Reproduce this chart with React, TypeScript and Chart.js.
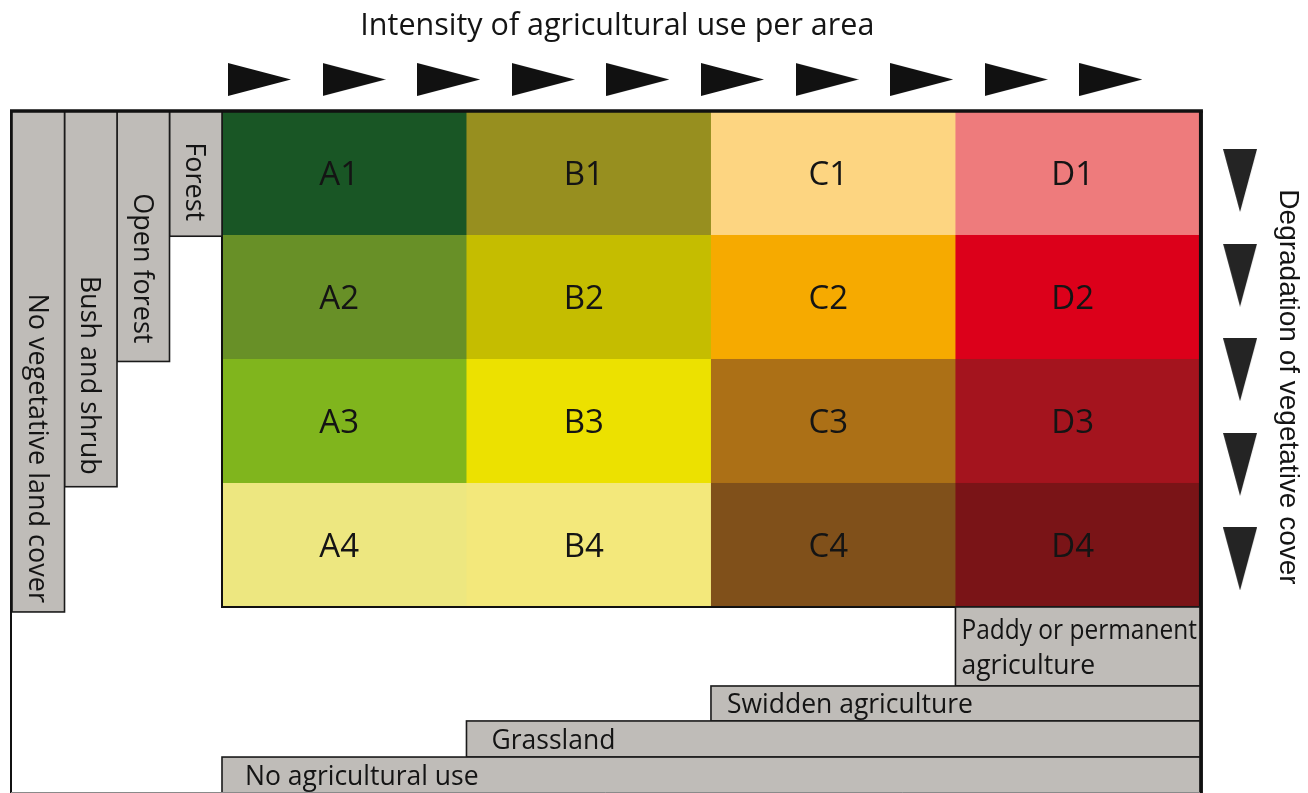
import React, { useEffect, useRef } from "react";
import { Chart, registerables } from "chart.js";

Chart.register(...registerables);

// ---------------- data ----------------
const intensityClasses = ["A", "B", "C", "D"];
const degradationClasses = ["1", "2", "3", "4"];

const cellColorsRow1 = ["#195625", "#978f1f", "#fdd581", "#ee7b7c"];
const cellColorsRow2 = ["#689027", "#c5bd00", "#f6aa00", "#dc001a"];
const cellColorsRow3 = ["#80b51d", "#ece100", "#ac7016", "#a4141e"];
const cellColorsRow4 = ["#ede780", "#f3e87b", "#80501a", "#7a1417"];
const cellColors = [cellColorsRow1, cellColorsRow2, cellColorsRow3, cellColorsRow4];

const vegetationLabels = ["Forest", "Open forest", "Bush and shrub", "No vegetative land cover"];
const vegetationReach = [1, 2, 3, 4]; // degradation rows covered by each vegetation class

const agricultureLabels = [
  ["Paddy or permanent", "agriculture"],
  ["Swidden agriculture"],
  ["Grassland"],
  ["No agricultural use"],
];
const agricultureFrom = [3, 2, 1, 0]; // first intensity column covered by each use class

const titleText = "Intensity of agricultural use per area";
const sideText = "Degradation of vegetative cover";
const intensityArrowCount = 10;
const degradationArrowCount = 5;

// ---------------- layout (scale units / px) ----------------
const X_MIN = -0.908;
const X_MAX = 4.442;
const Y_MIN = -0.895;
const Y_MAX = 5.5;
const VEG_W = 0.2147;
const VEG_PAD = [15, 18, 12, 9];
const AGRI_BANDS = [
  [4.0, 4.637],
  [4.637, 4.919],
  [4.919, 5.21],
  [5.21, 5.7],
];
const AGRI_PAD = [6, 16, 25, 23];
const FRAME_LEFT = -0.863;
const TOP_ARROW_Y = -0.254;
const TOP_ARROW_X0 = 0.1534;
const TOP_ARROW_STEP = 0.3869;
const SIDE_ARROW_X = 4.164;
const SIDE_ARROW_Y0 = 0.5605;
const SIDE_ARROW_STEP = 0.763;

const SANS = "'Open Sans', 'DejaVu Sans', sans-serif";
const GRAY = "#bfbcb8";
const INK = "#141414";

function makeTriangle(w: number, h: number, dir: "right" | "down", color: string) {
  const c = document.createElement("canvas");
  c.width = w;
  c.height = h;
  const g = c.getContext("2d")!;
  g.fillStyle = color;
  g.beginPath();
  if (dir === "right") {
    g.moveTo(0, 0);
    g.lineTo(w, h / 2);
    g.lineTo(0, h);
  } else {
    g.moveTo(0, 0);
    g.lineTo(w, 0);
    g.lineTo(w / 2, h);
  }
  g.closePath();
  g.fill();
  return c;
}

function vText(ctx: CanvasRenderingContext2D, text: string, x: number, y: number, align: CanvasTextAlign, size: number, family: string) {
  ctx.save();
  ctx.translate(x, y);
  ctx.rotate(Math.PI / 2);
  ctx.font = `${size}px ${family}`;
  ctx.textAlign = align;
  ctx.textBaseline = "alphabetic";
  ctx.fillStyle = INK;
  ctx.fillText(text, 0, size * 0.36);
  ctx.restore();
}

const diagramPlugin = {
  id: "landDiagram",
  beforeDatasetsDraw(chart: any) {
    const ctx: CanvasRenderingContext2D = chart.ctx;
    const xs = chart.scales.x;
    const ys = chart.scales.y;
    const px = (u: number) => xs.getPixelForValue(u);
    const py = (v: number) => ys.getPixelForValue(v);
    ctx.save();

    // matrix cells
    degradationClasses.forEach((row, r) => {
      intensityClasses.forEach((col, c) => {
        const x0 = px(c), x1 = px(c + 1), y0 = py(r), y1 = py(r + 1);
        ctx.fillStyle = cellColors[r][c];
        ctx.fillRect(x0, y0, x1 - x0 + 0.6, y1 - y0 + 0.6);
      });
    });
    // cell labels
    ctx.font = `33px ${SANS}`;
    ctx.textAlign = "center";
    ctx.textBaseline = "alphabetic";
    ctx.fillStyle = INK;
    degradationClasses.forEach((row, r) => {
      intensityClasses.forEach((col, c) => {
        const cx = (px(c) + px(c + 1)) / 2;
        const cy = (py(r) + py(r + 1)) / 2;
        ctx.fillText(col + row, cx - 5, cy + 33 * 0.36);
      });
    });
    // matrix outline
    ctx.strokeStyle = "#111";
    ctx.lineWidth = 2;
    ctx.strokeRect(px(0), py(0), px(4) - px(0), py(4) - py(0));

    // vegetation bars (left)
    vegetationLabels.forEach((label, k) => {
      const x0 = px(-(k + 1) * VEG_W);
      const x1 = px(-k * VEG_W);
      const y0 = py(0);
      const y1 = py(vegetationReach[k] * 1.01);
      ctx.fillStyle = GRAY;
      ctx.fillRect(x0, y0, x1 - x0, y1 - y0);
      ctx.strokeStyle = "#1a1a1a";
      ctx.lineWidth = 1.6;
      ctx.strokeRect(x0, y0, x1 - x0, y1 - y0);
      vText(ctx, label, (x0 + x1) / 2, y1 - VEG_PAD[k], "right", 27, SANS);
    });

    // agriculture bars (bottom)
    agricultureLabels.forEach((lines, k) => {
      const x0 = px(agricultureFrom[k]);
      const x1 = px(4);
      const y0 = py(AGRI_BANDS[k][0]);
      const y1 = py(AGRI_BANDS[k][1]);
      ctx.fillStyle = GRAY;
      ctx.fillRect(x0, y0, x1 - x0, y1 - y0);
      ctx.strokeStyle = "#1a1a1a";
      ctx.lineWidth = 1.6;
      ctx.strokeRect(x0, y0, x1 - x0, y1 - y0);
      ctx.font = `26.5px ${SANS}`;
      ctx.textAlign = "left";
      ctx.textBaseline = "alphabetic";
      ctx.fillStyle = INK;
      const lh = 35;
      const mid = k === 3 ? py(5.21) + 18.5 : (y0 + y1) / 2;
      lines.forEach((t, i) => {
        const cy = mid + (i - (lines.length - 1) / 2) * lh;
        ctx.fillText(t, x0 + AGRI_PAD[k], cy + 26.5 * 0.36, x1 - x0 - AGRI_PAD[k] - 3);
      });
    });

    // frame
    ctx.strokeStyle = "#111";
    ctx.lineWidth = 3.5;
    ctx.beginPath();
    ctx.moveTo(px(FRAME_LEFT) - 1, py(0));
    ctx.lineTo(px(4) + 3, py(0));
    ctx.stroke();
    ctx.lineWidth = 3;
    ctx.beginPath();
    ctx.moveTo(px(4) + 1.5, py(0));
    ctx.lineTo(px(4) + 1.5, chart.height);
    ctx.stroke();
    ctx.lineWidth = 2;
    ctx.beginPath();
    ctx.moveTo(px(FRAME_LEFT), py(0));
    ctx.lineTo(px(FRAME_LEFT), chart.height);
    ctx.stroke();
    ctx.strokeStyle = "#8a8a8a";
    ctx.lineWidth = 1;
    ctx.beginPath();
    ctx.moveTo(px(FRAME_LEFT), chart.height - 0.5);
    ctx.lineTo(px(4), chart.height - 0.5);
    ctx.stroke();

    // title
    ctx.font = `30.5px ${SANS}`;
    ctx.textAlign = "center";
    ctx.textBaseline = "alphabetic";
    ctx.fillStyle = INK;
    ctx.fillText(titleText, px(1.617), py(-0.702) + 30.5 * 0.36);

    // side label
    vText(ctx, sideText, px(4.368), py(2.226), "center", 28, "'Liberation Sans', Arial, sans-serif");

    ctx.restore();
  },
};

export default function App() {
  const ref = useRef<HTMLCanvasElement | null>(null);
  useEffect(() => {
    document.body.style.margin = "0";
    const canvas = ref.current!;
    const topArrows = Array.from({ length: intensityArrowCount }, (_, i) => ({
      x: TOP_ARROW_X0 + i * TOP_ARROW_STEP,
      y: TOP_ARROW_Y,
    }));
    const sideArrows = Array.from({ length: degradationArrowCount }, (_, i) => ({
      x: SIDE_ARROW_X,
      y: SIDE_ARROW_Y0 + i * SIDE_ARROW_STEP,
    }));
    const chart = new Chart(canvas, {
      type: "scatter",
      data: {
        datasets: [
          {
            label: "intensity",
            data: topArrows,
            pointStyle: makeTriangle(63, 33, "right", "#111111") as any,
            pointRadius: 2,
            pointHoverRadius: 2,
          },
          {
            label: "degradation",
            data: sideArrows,
            pointStyle: makeTriangle(34, 63, "down", "#242424") as any,
            pointRadius: 2,
            pointHoverRadius: 2,
          },
        ],
      },
      options: {
        animation: false,
        responsive: false,
        maintainAspectRatio: false,
        events: [],
        layout: { padding: 0, autoPadding: false },
        plugins: {
          legend: { display: false },
          tooltip: { enabled: false },
          title: { display: false },
        },
        scales: {
          x: { type: "linear", min: X_MIN, max: X_MAX, display: false },
          y: { type: "linear", min: Y_MIN, max: Y_MAX, reverse: true, display: false },
        },
      },
      plugins: [diagramPlugin],
    });
    return () => chart.destroy();
  }, []);
  return (
    <div style={{ width: 1308, height: 793, background: "#fff" }}>
      <canvas ref={ref} width={1308} height={793} style={{ display: "block", width: 1308, height: 793 }} />
    </div>
  );
}
